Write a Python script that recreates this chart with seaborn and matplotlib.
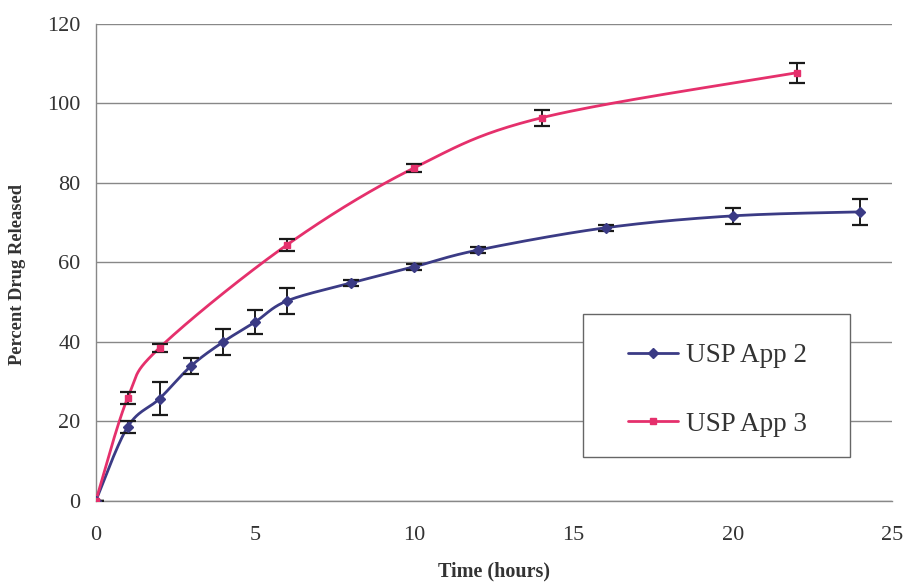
import numpy as np
import pandas as pd
import matplotlib
matplotlib.use("Agg")
import matplotlib.pyplot as plt
import seaborn as sns
from matplotlib.patches import Rectangle
from matplotlib.lines import Line2D

# Dissolution profiles: time points (hours), mean % released and error half-widths
time_app2 = [0, 1, 2, 3, 4, 5, 6, 8, 10, 12, 16, 20, 24]
release_app2 = [0, 18.6, 25.7, 34.0, 40.0, 45.0, 50.3, 54.8, 58.9, 63.1, 68.7, 71.7, 72.7]
err_app2 = [0, 1.5, 4.2, 2.0, 3.2, 3.0, 3.2, 0.8, 0.8, 0.8, 0.8, 2.0, 3.2]

time_app3 = [0, 1, 2, 6, 10, 14, 22]
release_app3 = [0, 25.9, 38.5, 64.4, 83.8, 96.4, 107.7]
err_app3 = [0, 1.6, 1.0, 1.5, 1.0, 2.0, 2.5]

series_names = ["USP App 2", "USP App 3"]
colors = ["#3b3b85", "#e5306c"]
x_ticks = [0, 5, 10, 15, 20, 25]
y_ticks = [0, 20, 40, 60, 80, 100, 120]


def smooth_curve(x, y, n=40):
    """Catmull-Rom style smoothing between consecutive points."""
    x = np.asarray(x, float)
    y = np.asarray(y, float)
    pts = np.column_stack([x, y])
    ext = np.vstack([pts[0], pts, pts[-1]])
    out = []
    for i in range(len(pts) - 1):
        p0, p1, p2, p3 = ext[i], ext[i + 1], ext[i + 2], ext[i + 3]
        c1 = p1 + (p2 - p0) / 6.0
        c2 = p2 - (p3 - p1) / 6.0
        t = np.linspace(0, 1, n, endpoint=(i == len(pts) - 2))[:, None]
        seg = ((1 - t) ** 3) * p1 + 3 * ((1 - t) ** 2) * t * c1 + 3 * (1 - t) * t ** 2 * c2 + t ** 3 * p2
        out.append(seg)
    out = np.vstack(out)
    return out[:, 0], out[:, 1]


sns.set_theme(style="white")
plt.rcParams["font.family"] = ["Liberation Serif", "DejaVu Serif"]

fig = plt.figure(figsize=(9.04, 5.83), dpi=100)
ax = fig.add_axes([0.106, 0.141, 0.881, 0.818])

data = [(time_app2, release_app2, err_app2, "D"), (time_app3, release_app3, err_app3, "s")]
handles = []
for (t, r, e, mk), name, col in zip(data, series_names, colors):
    sx, sy = smooth_curve(t, r)
    curve = pd.DataFrame({"Time (hours)": sx, "Percent Drug Released": sy})
    sns.lineplot(data=curve, x="Time (hours)", y="Percent Drug Released", ax=ax,
                 color=col, lw=2.0, sort=False, estimator=None, legend=False, zorder=3)
    ax.errorbar(t, r, yerr=e, fmt="none", ecolor="#1a1a1a", elinewidth=1.4,
                capsize=6, capthick=1.6, zorder=4)
    ax.plot(t, r, ls="none", marker=mk, ms=5, color=col, zorder=5)
    handles.append(Line2D([], [], color=col, lw=2.0, marker=mk, ms=5, label=name))

if ax.get_legend() is not None:
    ax.get_legend().remove()

ax.set_xlim(0, 25)
ax.set_ylim(0, 120)
ax.set_xticks(x_ticks)
ax.set_yticks(y_ticks)
ax.yaxis.grid(True, color="#888888", lw=1.0)
ax.set_axisbelow(True)
for s in ["top", "right"]:
    ax.spines[s].set_visible(False)
for s in ["left", "bottom"]:
    ax.spines[s].set_color("#888888")
    ax.spines[s].set_linewidth(1.0)
ax.tick_params(axis="y", direction="out", length=7, width=1, color="#888888",
               labelsize=16, labelcolor="#333333", pad=4)
ax.tick_params(axis="x", direction="inout", length=6, width=1, color="#888888",
               labelsize=16, labelcolor="#333333", pad=15)
ax.set_xlabel("Time (hours)", fontsize=14.5, fontweight="bold", color="#333333", labelpad=12)
ax.set_ylabel("Percent Drug Released", fontsize=13.3, fontweight="bold", color="#333333")
ax.yaxis.set_label_coords(-0.088, 0.474)

# Legend box (opaque, covers gridlines) with the entries placed inside it
box = Rectangle((583 / 904, 1 - 457 / 583), 267 / 904, 143 / 583,
                transform=fig.transFigure, facecolor="white", edgecolor="#666666",
                lw=1.0, zorder=6)
fig.add_artist(box)
leg = fig.legend(handles=handles, loc="upper left",
                 bbox_to_anchor=(628 / 904, 1 - 343 / 583),
                 frameon=False, fontsize=19.5, labelspacing=1.62,
                 handlelength=1.85, handletextpad=0.3, borderpad=0, borderaxespad=0)
leg.set_zorder(7)
for txt in leg.get_texts():
    txt.set_color("#333333")

fig.savefig("out.png", dpi=100, facecolor="white")
